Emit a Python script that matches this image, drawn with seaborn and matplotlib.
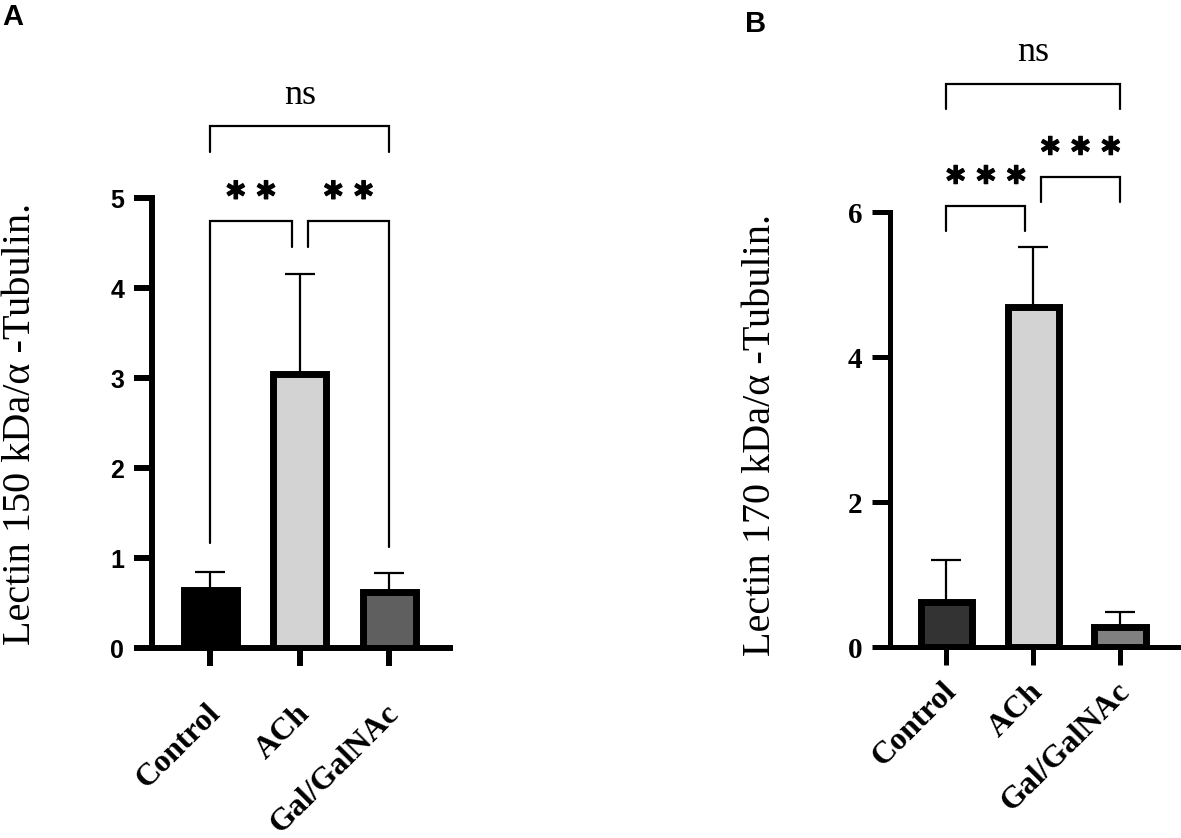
import pandas as pd
import matplotlib.pyplot as plt
import matplotlib.patheffects as pe
from matplotlib.transforms import ScaledTranslation
import seaborn as sns

grupos = ['Control', 'ACh', 'Gal/GalNAc']

# panel A: Lectin 150 kDa
lectina_150 = [0.64, 3.05, 0.62]
error_150 = [0.21, 1.11, 0.21]
colores_150 = ['#000000', '#d3d3d3', '#5f5f5f']

# panel B: Lectin 170 kDa
lectina_170 = [0.62, 4.69, 0.27]
error_170 = [0.58, 0.83, 0.21]
colores_170 = ['#333333', '#d3d3d3', '#808080']

# comparaciones: (grupo1, grupo2, altura, etiqueta, pie1, pie2)
comparaciones_150 = [(0, 2, 5.80, 'ns', 5.51, 5.51),
                     (0, 1, 4.74, '**', 1.17, 4.46),
                     (1, 2, 4.74, '**', 4.46, 1.12)]
comparaciones_170 = [(0, 2, 7.77, 'ns', 7.42, 7.42),
                     (0, 1, 6.08, '***', 5.74, 5.74),
                     (1, 2, 6.48, '***', 6.14, 6.14)]

SERIF = 'Liberation Serif'
SANS = 'Liberation Sans'


def panel(ax, valores, errores, colores, comparaciones, ymax, paso,
          fuente_ticks, tam_ticks, lw_spine, pad_x):
    df = pd.DataFrame({'grupo': grupos, 'valor': valores})
    sns.barplot(data=df, x='grupo', y='valor', hue='grupo', palette=colores,
                errorbar=None, width=0.59, edgecolor='black', linewidth=5,
                legend=False, ax=ax)
    ax.errorbar(range(len(grupos)), valores, yerr=[[0] * len(grupos), errores],
                fmt='none', ecolor='black', elinewidth=1.6, capsize=11, capthick=1.6, zorder=1)
    ax.set_xlim(-0.65, 2.68)
    ax.set_ylim(0, ymax)
    ax.set_yticks(range(0, ymax + 1, paso))
    sns.despine(ax=ax)
    for s in ['left', 'bottom']:
        ax.spines[s].set_linewidth(lw_spine)
    ax.tick_params(axis='both', length=13, width=lw_spine, left=True, bottom=True)
    ax.tick_params(axis='y', pad=7)
    ax.set_xlabel('')
    for lab in ax.get_yticklabels():
        lab.set_fontfamily(fuente_ticks)
        lab.set_fontweight('bold')
        lab.set_fontsize(tam_ticks)
    ax.set_xticks(range(len(grupos)))
    ax.set_xticklabels(grupos, rotation=45, ha='right', va='center',
                       rotation_mode='anchor', fontfamily=SERIF,
                       fontweight='bold', fontsize=23)
    ax.tick_params(axis='x', pad=pad_x)
    desplazar = ScaledTranslation(4 / 72, 0, ax.figure.dpi_scale_trans)
    for lab in ax.get_xticklabels():
        lab.set_transform(lab.get_transform() + desplazar)

    for i, j, y, etiqueta, pie1, pie2 in comparaciones:
        x1 = i + (0.09 if i == 1 else 0)
        x2 = j - (0.09 if j == 1 else 0)
        ax.plot([x1, x1, x2, x2], [pie1, y, y, pie2], color='black', lw=1.6,
                clip_on=False, solid_joinstyle='miter')
        xm = (x1 + x2) / 2
        if etiqueta == 'ns':
            ax.annotate(etiqueta, (xm, y), xytext=(0, 16), textcoords='offset points',
                        ha='center', va='baseline', fontfamily=SERIF, fontsize=26,
                        annotation_clip=False)
        else:
            texto = '\u2009'.join(['\u2217'] * len(etiqueta))
            ax.annotate(texto, (xm, y), xytext=(0, 22), textcoords='offset points',
                        ha='center', va='center', fontfamily='DejaVu Sans',
                        fontweight='bold', fontsize=21, annotation_clip=False,
                        path_effects=[pe.withStroke(linewidth=0.9, foreground='black')])


sns.set_style('ticks', {'axes.edgecolor': 'black', 'text.color': 'black',
                        'xtick.color': 'black', 'ytick.color': 'black',
                        'axes.labelcolor': 'black'})
fig = plt.figure(figsize=(11.81, 8.38), dpi=100)

ax1 = fig.add_axes([152 / 1181, 1 - 648 / 838, 298 / 1181, 450 / 838])
panel(ax1, lectina_150, error_150, colores_150, comparaciones_150, 5, 1, SANS, 18, 4.3, 31)
ax1.set_ylabel('Lectin 150 kDa/\u03b1 -Tubulin.', fontfamily=SERIF, fontsize=29,
               ha='left', va='center')
ax1.yaxis.set_label_coords(21 / 1181, 1 - 645 / 838, transform=fig.transFigure)

ax2 = fig.add_axes([890 / 1181, 1 - 647 / 838, 289 / 1181, 435 / 838])
panel(ax2, lectina_170, error_170, colores_170, comparaciones_170, 6, 2, SERIF, 21, 3.6, 16)
ax2.set_ylabel('Lectin 170 kDa/\u03b1 -Tubulin.', fontfamily=SERIF, fontsize=29,
               ha='left', va='center')
ax2.yaxis.set_label_coords(760 / 1181, 1 - 656 / 838, transform=fig.transFigure)

fig.text(2 / 1181, 1 - 25 / 838, 'A', fontfamily=SANS, fontweight='bold', fontsize=21)
fig.text(745 / 1181, 1 - 32 / 838, 'B', fontfamily=SANS, fontweight='bold', fontsize=21)

fig.savefig('out.png', dpi=100)
